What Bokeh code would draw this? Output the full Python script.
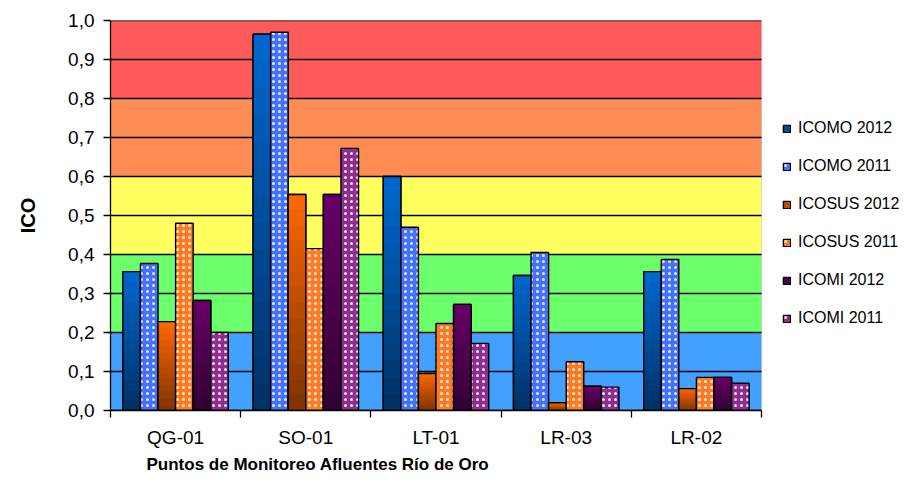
from bokeh.plotting import figure
from bokeh.models import (Range1d, FixedTicker, CustomJSTickFormatter, ColumnDataSource,
                          BoxAnnotation, Legend, LegendItem, Title)
from bokeh.transform import dodge
from bokeh.embed import file_html
from bokeh.resources import INLINE

# ---------------- data ----------------
categories = ["QG-01", "SO-01", "LT-01", "LR-03", "LR-02"]
series_names = ["ICOMO 2012", "ICOMO 2011", "ICOSUS 2012", "ICOSUS 2011", "ICOMI 2012", "ICOMI 2011"]
icomo_2012 = [0.356, 0.965, 0.600, 0.346, 0.356]
icomo_2011 = [0.377, 0.970, 0.470, 0.405, 0.387]
icosus_2012 = [0.228, 0.554, 0.095, 0.020, 0.056]
icosus_2011 = [0.480, 0.415, 0.223, 0.125, 0.085]
icomi_2012 = [0.282, 0.554, 0.272, 0.062, 0.085]
icomi_2011 = [0.200, 0.672, 0.172, 0.060, 0.070]
y_ticks = [0.0, 0.1, 0.2, 0.3, 0.4, 0.5, 0.6, 0.7, 0.8, 0.9, 1.0]
y_tick_labels = ["0,0", "0,1", "0,2", "0,3", "0,4", "0,5", "0,6", "0,7", "0,8", "0,9", "1,0"]
band_edges = [0.0, 0.2, 0.4, 0.6, 0.8, 1.0]

# ---------------- styles / layout ----------------
FONT = "Liberation Sans"
band_colors = ["#42A0FF", "#6CFF6C", "#FFFF5F", "#FF8C55", "#FF5A5A"]
styles = [
    dict(kind="grad", top=(0, 104, 208), bottom=(0, 48, 100)),
    dict(kind="dot", base="#4472FF"),
    dict(kind="grad", top=(255, 104, 0), bottom=(125, 50, 0)),
    dict(kind="dot", base="#FF7A22"),
    dict(kind="grad", top=(104, 0, 104), bottom=(48, 0, 48)),
    dict(kind="dot", base="#8E2F8E"),
]
all_values = [icomo_2012, icomo_2011, icosus_2012, icosus_2011, icomi_2012, icomi_2011]
BAR_W = 0.135
NS = 14
W, H = 906, 497
LEFT, RIGHT_PLOT, RIGHT_FRAME, TOP, BOTTOM = 110, 761, 904, 20, 410
N = len(categories)
X_END = N * (RIGHT_FRAME - LEFT) / (RIGHT_PLOT - LEFT)   # extra room on the right for the legend

p = figure(width=W, height=H, output_backend="svg", toolbar_location=None,
           x_range=Range1d(0, X_END), y_range=Range1d(0, 1),
           min_border_left=LEFT, min_border_right=W - RIGHT_FRAME,
           min_border_top=TOP, min_border_bottom=H - BOTTOM,
           background_fill_color="white", border_fill_color="white")
p.outline_line_color = None

# colour bands (only over the plotting area)
for i, c in enumerate(band_colors):
    p.add_layout(BoxAnnotation(left=0, right=N, bottom=band_edges[i], top=band_edges[i + 1],
                               fill_color=c, fill_alpha=1, line_alpha=0, level="image"))
# light grey plot-area border
p.add_layout(BoxAnnotation(left=0, right=N, bottom=0, top=1, fill_alpha=0,
                           line_color="#9A9A9A", line_width=1, level="underlay"))

# horizontal grid lines limited to the plot area
p.segment(x0=[0] * len(y_ticks), x1=[N] * len(y_ticks), y0=y_ticks, y1=y_ticks,
          line_color="black", line_width=1.3)
p.grid.visible = False

x_centers = [i + 0.5 for i in range(N)]

legend_items = []
for si, (name, vals, st) in enumerate(zip(series_names, all_values, styles)):
    off = (si - 2.5) * BAR_W
    src = ColumnDataSource(dict(x=x_centers, top=vals))
    if st["kind"] == "grad":
        t, b = st["top"], st["bottom"]
        mid = "#%02x%02x%02x" % tuple((a + c) // 2 for a, c in zip(t, b))
        main = p.vbar(x=dodge("x", off), top="top", width=BAR_W, source=src,
                      fill_color=mid, line_color="black", line_width=1.4)
        xs, bots, tops, cols = [], [], [], []
        for xc, v in zip(x_centers, vals):
            for k in range(NS):
                f = (k + 0.5) / NS
                col = tuple(int(round(b[j] + (t[j] - b[j]) * f)) for j in range(3))
                xs.append(xc)
                bots.append(v * k / NS)
                tops.append(v * (k + 1) / NS)
                cols.append("#%02x%02x%02x" % col)
        ssrc = ColumnDataSource(dict(x=xs, bottom=bots, top=tops, color=cols))
        p.vbar(x=dodge("x", off), bottom="bottom", top="top", width=BAR_W, source=ssrc,
               fill_color="color", line_color="color", line_width=0.6)
        p.vbar(x=dodge("x", off), top="top", width=BAR_W, source=src,
               fill_alpha=0, line_color="black", line_width=1.4)
    else:
        main = p.vbar(x=dodge("x", off), top="top", width=BAR_W, source=src,
                      fill_color=st["base"], line_color="black", line_width=1.4,
                      hatch_pattern="dot", hatch_color="white", hatch_alpha=0.85,
                      hatch_scale=6, hatch_weight=2.6)
    legend_items.append(LegendItem(label=name, renderers=[main]))

yax = p.yaxis[0]
yax.ticker = FixedTicker(ticks=y_ticks)
yax.formatter = CustomJSTickFormatter(args=dict(labels=y_tick_labels),
                                      code="return labels[Math.round(tick*10)];")
yax.axis_line_color = "black"
yax.axis_line_width = 1.3
yax.major_tick_in = 0
yax.major_tick_out = 7
yax.major_tick_line_color = "black"
yax.major_tick_line_width = 1.3
yax.minor_tick_line_color = None
yax.major_label_text_font = FONT
yax.major_label_text_font_size = "19px"
yax.major_label_text_color = "black"
yax.major_label_standoff = 9
yax.axis_label = "ICO"
yax.axis_label_text_font = FONT
yax.axis_label_text_font_size = "20px"
yax.axis_label_text_font_style = "bold"
yax.axis_label_text_color = "black"
yax.axis_label_standoff = 26

xax = p.xaxis[0]
xax.bounds = (0, N)
xax.ticker = FixedTicker(ticks=x_centers, minor_ticks=list(range(N + 1)))
xax.formatter = CustomJSTickFormatter(args=dict(cats=categories),
                                      code="return cats[Math.floor(tick)];")
xax.axis_line_color = "black"
xax.axis_line_width = 1.3
xax.major_tick_in = 0
xax.major_tick_out = 0
xax.minor_tick_in = 0
xax.minor_tick_out = 7
xax.minor_tick_line_color = "black"
xax.minor_tick_line_width = 1.3
xax.major_label_text_font = FONT
xax.major_label_text_font_size = "19px"
xax.major_label_text_color = "black"
xax.major_label_standoff = 9

title = Title(text="Puntos de Monitoreo Afluentes Río de Oro", align="left", offset=36,
              text_font=FONT, text_font_size="17px", text_font_style="bold",
              text_color="black", standoff=4)
p.add_layout(title, "below")

legend = Legend(items=legend_items, location=(672, 82), orientation="vertical",
                glyph_width=9, glyph_height=9, label_standoff=7, label_height=20,
                spacing=18, padding=0, margin=0, border_line_alpha=0,
                background_fill_alpha=0, label_text_font=FONT,
                label_text_font_size="16px", label_text_color="black")
p.add_layout(legend, "center")

open("out.html", "w").write(file_html(p, INLINE))
